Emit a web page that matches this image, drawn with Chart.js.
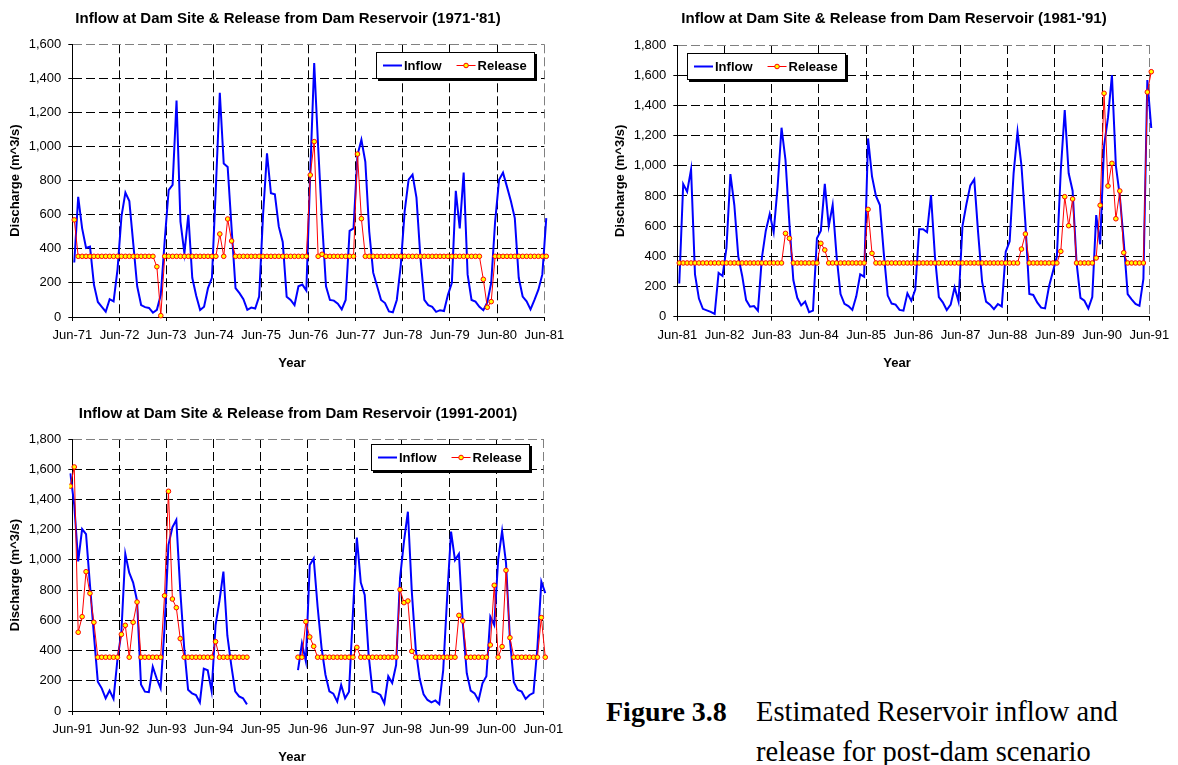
<!DOCTYPE html>
<html>
<head>
<meta charset="utf-8">
<script src="https://cdn.jsdelivr.net/npm/chart.js@4.4.1/dist/chart.umd.min.js"></script>
<style>
  body { margin: 0; background: #fff; }
  #page { position: relative; width: 1178px; height: 765px; overflow: hidden; background: #fff; }
  canvas { position: absolute; }
  .title { position: absolute; font: bold 15px/15px "Liberation Sans", Arial, sans-serif; white-space: nowrap; transform: translateX(-50%); color: #000; }
  .xtitle { position: absolute; font: bold 13px/13px "Liberation Sans", Arial, sans-serif; white-space: nowrap; transform: translateX(-50%); color: #000; }
  .cap { position: absolute; font-family: "Liberation Serif", "Times New Roman", serif; font-size: 28px; white-space: nowrap; color: #000; }
</style>
</head>
<body>
<div id="page">
  <canvas id="c1" width="575" height="380" style="left:0;top:0"></canvas>
  <canvas id="c2" width="578" height="380" style="left:600px;top:0"></canvas>
  <canvas id="c3" width="575" height="380" style="left:0;top:385px"></canvas>

  <div class="title" style="left:288px;top:10px">Inflow at Dam Site &amp; Release from Dam Reservoir (1971-'81)</div>
  <div class="title" style="left:894px;top:10px">Inflow at Dam Site &amp; Release from Dam Reservoir (1981-'91)</div>
  <div class="title" style="left:298px;top:405px">Inflow at Dam Site &amp; Release from Dam Reservoir (1991-2001)</div>

  <div class="xtitle" style="left:292px;top:356px">Year</div>
  <div class="xtitle" style="left:897px;top:356px">Year</div>
  <div class="xtitle" style="left:292px;top:750px">Year</div>

  <div class="cap" style="left:606px;top:698px;line-height:28px;font-weight:bold">Figure 3.8</div>
  <div class="cap" style="left:756px;top:692px;line-height:40px;font-size:28.5px">Estimated Reservoir inflow and<br>release for post-dam scenario</div>
</div>

<script>
// x tick labels (one per June)
const years1 = ['Jun-71','Jun-72','Jun-73','Jun-74','Jun-75','Jun-76','Jun-77','Jun-78','Jun-79','Jun-80','Jun-81']
const years2 = ['Jun-81','Jun-82','Jun-83','Jun-84','Jun-85','Jun-86','Jun-87','Jun-88','Jun-89','Jun-90','Jun-91']
const years3 = ['Jun-91','Jun-92','Jun-93','Jun-94','Jun-95','Jun-96','Jun-97','Jun-98','Jun-99','Jun-00','Jun-01']

// monthly values, m^3/s, first value = June of the first year
const inflow1 = [
  320, 705, 520, 405, 413, 190, 88, 60, 31, 105, 92, 280,
  590, 730, 680, 430, 180, 70, 58, 53, 25, 42, 130, 450,
  745, 775, 1270, 560, 374, 600, 230, 125, 41, 60, 170, 230,
  760, 1316, 900, 880, 520, 170, 140, 105, 42, 55, 50, 120,
  600, 960, 726, 720, 530, 440, 119, 100, 70, 180, 190, 155,
  850, 1490, 1000, 560, 180, 100, 96, 78, 45, 100, 505, 520,
  950, 1040, 910, 500, 260, 180, 100, 82, 33, 28, 100, 300,
  620, 806, 835, 700, 350, 100, 70, 60, 30, 40, 35, 130,
  200, 740, 520, 847, 250, 100, 90, 60, 40, 85, 200, 560,
  805, 847, 765, 680, 580, 230, 120, 92, 45, 100, 160, 250,
  580
]
const release1 = [
  570, 356, 356, 356, 356, 356, 356, 356, 356, 356, 356, 356,
  356, 356, 356, 356, 356, 356, 356, 356, 356, 295, 8, 356,
  356, 356, 356, 356, 356, 356, 356, 356, 356, 356, 356, 356,
  356, 487, 356, 575, 446, 356, 356, 356, 356, 356, 356, 356,
  356, 356, 356, 356, 356, 356, 356, 356, 356, 356, 356, 356,
  833, 1029, 356, 368, 356, 356, 356, 356, 356, 356, 356, 356,
  956, 577, 356, 356, 356, 356, 356, 356, 356, 356, 356, 356,
  356, 356, 356, 356, 356, 356, 356, 356, 356, 356, 356, 356,
  356, 356, 356, 356, 356, 356, 356, 356, 221, 57, 90, 356,
  356, 356, 356, 356, 356, 356, 356, 356, 356, 356, 356, 356,
  356
]

const inflow2 = [
  220, 879, 828, 976, 280, 120, 52, 42, 32, 18, 290, 270,
  455, 945, 740, 400, 270, 110, 66, 70, 40, 390, 570, 680,
  560, 860, 1252, 1040, 620, 243, 125, 75, 100, 30, 40, 520,
  570, 880, 600, 740, 400, 150, 85, 70, 45, 135, 280, 265,
  1181, 930, 800, 740, 420, 140, 87, 80, 45, 40, 155, 105,
  180, 580, 580, 560, 806, 400, 130, 95, 44, 80, 195, 100,
  600, 745, 870, 910, 550, 230, 100, 80, 50, 84, 68, 430,
  500, 950, 1225, 1000, 620, 150, 144, 95, 60, 55, 200, 300,
  400, 970, 1369, 950, 835, 360, 125, 106, 55, 130, 673, 480,
  1130, 1320, 1600, 1000, 800, 500, 150, 115, 85, 72, 250, 1568,
  1250
]
const release2 = [
  356, 356, 356, 356, 356, 356, 356, 356, 356, 356, 356, 356,
  356, 356, 356, 356, 356, 356, 356, 356, 356, 356, 356, 356,
  356, 356, 356, 552, 519, 356, 356, 356, 356, 356, 356, 356,
  486, 442, 356, 356, 356, 356, 356, 356, 356, 356, 356, 356,
  711, 420, 356, 356, 356, 356, 356, 356, 356, 356, 356, 356,
  356, 356, 356, 356, 356, 356, 356, 356, 356, 356, 356, 356,
  356, 356, 356, 356, 356, 356, 356, 356, 356, 356, 356, 356,
  356, 356, 356, 448, 548, 356, 356, 356, 356, 356, 356, 356,
  356, 433, 795, 603, 780, 356, 356, 356, 356, 356, 389, 738,
  1480, 866, 1016, 649, 833, 424, 356, 356, 356, 356, 356, 1488,
  1623
]

// 1991-2001 starts one month early (May-91); null = no data
const start3 = -1
const inflow3 = [
  1573,
  1363, 990, 1204, 1170, 835, 505, 194, 150, 84, 135, 80, 340,
  520, 1040, 915, 850, 730, 175, 128, 125, 293, 215, 150, 550,
  1100, 1215, 1264, 800, 420, 140, 117, 106, 57, 280, 270, 130,
  569, 730, 922, 500, 304, 130, 97, 84, 44, null, null, null,
  null, null, null, null, null, null, null, null, null, 271, 448, 330,
  966, 1010, 690, 420, 240, 130, 115, 62, 172, 84, 128, 650,
  1147, 850, 768, 370, 128, 122, 106, 51, 230, 185, 304, 880,
  1121, 1319, 790, 410, 215, 110, 73, 57, 70, 45, 270, 750,
  1187, 999, 1040, 580, 250, 135, 117, 70, 183, 230, 624, 569,
  1000, 1191, 980, 470, 190, 139, 128, 80, 106, 120, 420, 856,
  780
]
const release3 = [
  1488,
  1615, 521, 624, 922, 779, 587, 356, 356, 356, 356, 356, 356,
  507, 567, 356, 587, 721, 356, 356, 356, 356, 356, 356, 763,
  1454, 741, 684, 479, 356, 356, 356, 356, 356, 356, 356, 356,
  459, 356, 356, 356, 356, 356, 356, 356, 356, null, null, null,
  null, null, null, null, null, null, null, null, null, 356, 356, 591,
  490, 428, 356, 356, 356, 356, 356, 356, 356, 356, 356, 356,
  421, 356, 356, 356, 356, 356, 356, 356, 356, 356, 356, 803,
  717, 728, 395, 356, 356, 356, 356, 356, 356, 356, 356, 356,
  356, 356, 633, 596, 356, 356, 356, 356, 356, 356, 437, 832,
  356, 426, 931, 485, 356, 356, 356, 356, 356, 356, 356, 618,
  356
]

Chart.defaults.font.family = '"Liberation Sans", Arial, sans-serif'
Chart.defaults.color = '#000'

// boxed legend with a drop shadow, drawn inside the plot area
const boxLegend = {
  id: 'boxLegend',
  afterDraw(chart, args, opts) {
    const { ctx, chartArea: a } = chart
    const sets = chart.data.datasets
    ctx.save()
    ctx.font = 'bold 13px "Liberation Sans", Arial, sans-serif'
    const widths = sets.map((d) => ctx.measureText(d.label).width)
    const w = Math.round(7 + widths.reduce((s, t) => s + 21 + t, 0) + 15 * (sets.length - 1) + 8)
    const h = 27
    const x = Math.round(opts.side === 'right' ? a.right - opts.dx - w : a.left + opts.dx)
    const y = Math.round(a.top + opts.dy)
    ctx.fillStyle = '#000'
    ctx.fillRect(x + 2, y + 2, w, h)
    ctx.fillStyle = '#fff'
    ctx.fillRect(x, y, w, h)
    ctx.strokeStyle = '#000'
    ctx.lineWidth = 1
    ctx.strokeRect(x + 0.5, y + 0.5, w - 1, h - 1)
    const cy = y + h / 2
    let cx = x + 7
    ctx.textBaseline = 'middle'
    sets.forEach((d, i) => {
      ctx.strokeStyle = d.borderColor
      ctx.lineWidth = d.borderWidth
      ctx.beginPath()
      ctx.moveTo(cx, cy)
      ctx.lineTo(cx + 19, cy)
      ctx.stroke()
      if (d.pointRadius) {
        ctx.beginPath()
        ctx.arc(cx + 9.5, cy, d.pointRadius, 0, Math.PI * 2)
        ctx.fillStyle = d.pointBackgroundColor
        ctx.fill()
        ctx.strokeStyle = d.pointBorderColor
        ctx.lineWidth = d.pointBorderWidth
        ctx.stroke()
      }
      ctx.fillStyle = '#000'
      ctx.fillText(d.label, cx + 21, cy + 1)
      cx += 21 + widths[i] + 15
    })
    ctx.restore()
  }
}

// data point at the middle of each month
const monthPoints = (values, start) => values.map((v, i) => ({ x: start + i + 0.5, y: v }))

const gridColor = (max) => (c) => (c.tick && c.tick.value === max ? '#808080' : '#000')

function makeChart(id, o) {
  const clip = { left: 3, right: 5, top: 5, bottom: 5 }
  return new Chart(document.getElementById(id), {
    type: 'line',
    data: {
      datasets: [
        {
          label: 'Inflow',
          data: monthPoints(o.inflow, o.start),
          borderColor: '#0000ff',
          borderWidth: 2,
          pointRadius: 0,
          tension: 0,
          order: 1,
          clip: clip
        },
        {
          label: 'Release',
          data: monthPoints(o.release, o.start),
          borderColor: '#ff0000',
          borderWidth: 1,
          pointRadius: 2.3,
          pointBackgroundColor: '#ffff00',
          pointBorderColor: '#ff0000',
          pointBorderWidth: 1,
          tension: 0,
          order: 0,
          clip: clip
        }
      ]
    },
    options: {
      responsive: false,
      animation: false,
      devicePixelRatio: 1,
      events: [],
      layout: { padding: o.pad },
      plugins: {
        legend: { display: false },
        tooltip: { enabled: false },
        boxLegend: o.legend
      },
      scales: {
        x: {
          type: 'linear',
          min: 0,
          max: 120,
          afterFit: (s) => { s.height = o.xHeight; s.paddingLeft = 0; s.paddingRight = 0 },
          ticks: {
            stepSize: 12,
            autoSkip: false,
            maxRotation: 0,
            minRotation: 0,
            padding: 7,
            font: { size: 13 },
            callback: (v) => o.years[Math.round(v / 12)]
          },
          grid: { color: gridColor(120), lineWidth: 1, tickLength: 4, tickColor: '#000', tickBorderDash: [] },
          border: { color: '#000', width: 1, dash: [9, 4] }
        },
        y: {
          min: 0,
          max: o.yMax,
          afterFit: (s) => { s.width = o.yWidth; s.paddingTop = 0; s.paddingBottom = 0 },
          ticks: {
            stepSize: 200,
            padding: 7,
            font: { size: 13 },
            callback: (v) => v.toLocaleString('en-US')
          },
          grid: { color: gridColor(o.yMax), lineWidth: 1, tickLength: 4, tickColor: '#000', tickBorderDash: [] },
          border: { color: '#000', width: 1, dash: [9, 4] },
          title: {
            display: true,
            text: 'Discharge (m^3/s)',
            font: { size: 13, weight: 'bold' },
            padding: { top: o.yTitlePad, bottom: 0 }
          }
        }
      }
    },
    plugins: [boxLegend]
  })
}

makeChart('c1', {
  inflow: inflow1, release: release1, start: 0, years: years1, yMax: 1600,
  pad: { top: 44.3, right: 30.7, bottom: 0, left: 0 }, yWidth: 72.3, xHeight: 63, yTitlePad: 7.2,
  legend: { side: 'right', dx: 9.3, dy: 8 }
})
makeChart('c2', {
  inflow: inflow2, release: release2, start: 0, years: years2, yMax: 1800,
  pad: { top: 45, right: 28.7, bottom: 0, left: 0 }, yWidth: 77.3, xHeight: 63.3, yTitlePad: 12.2,
  legend: { side: 'left', dx: 9.4, dy: 7.7 }
})
makeChart('c3', {
  inflow: inflow3, release: release3, start: start3, years: years3, yMax: 1800,
  pad: { top: 54, right: 31.7, bottom: 0, left: 0 }, yWidth: 72.3, xHeight: 54, yTitlePad: 7.2,
  legend: { side: 'right', dx: 13.3, dy: 5 }
})
</script>
</body>
</html>
